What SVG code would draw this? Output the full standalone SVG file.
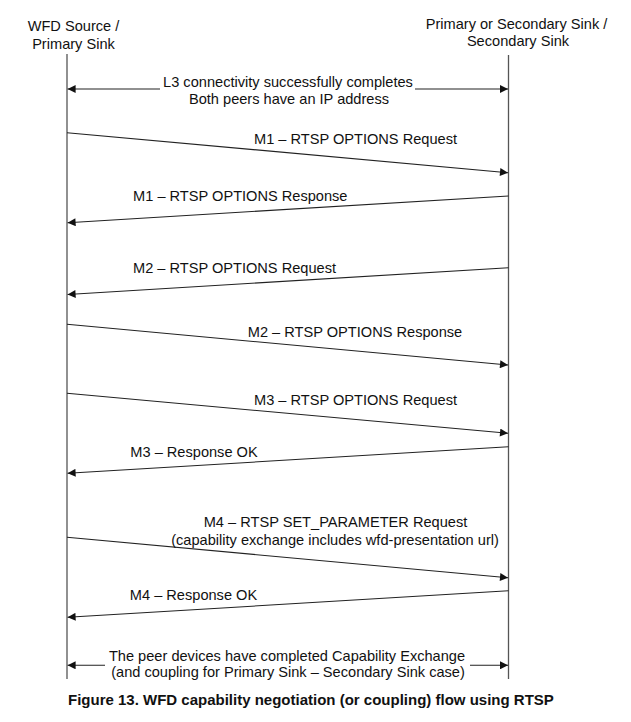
<svg xmlns="http://www.w3.org/2000/svg" width="631" height="722" viewBox="0 0 631 722">
<defs>
<marker id="ah" viewBox="0 0 10 10" refX="10" refY="5" markerWidth="9" markerHeight="8" markerUnits="userSpaceOnUse" orient="auto">
<path d="M0,0 L10,5 L0,10 z" fill="#111"/>
</marker>
<style>
text{font-family:"Liberation Sans",Arial,Helvetica,sans-serif;font-size:14.6px;fill:#111}
.m{text-anchor:middle}
.cap{font-weight:bold;font-size:15px}
.life{stroke:#555;stroke-width:1.3;fill:none}
.msg{stroke:#222;stroke-width:1.1;fill:none;marker-end:url(#ah)}
</style>
</defs>
<rect width="631" height="722" fill="#fff"/>
<g id="source">
<text class="m" x="73.5" y="31">WFD Source /</text>
<text class="m" x="73.5" y="49">Primary Sink</text>
<line class="life" x1="67" y1="54" x2="67" y2="679"/>
</g>
<g id="sink">
<text class="m" x="516.5" y="29">Primary or Secondary Sink /</text>
<text class="m" x="518" y="46">Secondary Sink</text>
<line class="life" x1="508.5" y1="55" x2="508.5" y2="679"/>
</g>
<g id="connectors">
<line class="msg" x1="160" y1="89" x2="67.6" y2="89"/>
<line class="msg" x1="415" y1="89" x2="508" y2="89"/>
<line class="msg" x1="67" y1="132.7" x2="508" y2="172.7"/>
<line class="msg" x1="508.5" y1="196" x2="67.6" y2="222.7"/>
<line class="msg" x1="508.5" y1="267.7" x2="67.6" y2="294.5"/>
<line class="msg" x1="67" y1="324.3" x2="508" y2="365"/>
<line class="msg" x1="67" y1="393.3" x2="508" y2="433.3"/>
<line class="msg" x1="508.5" y1="446.7" x2="67.6" y2="473.3"/>
<line class="msg" x1="67" y1="537.3" x2="508" y2="577.7"/>
<line class="msg" x1="508.5" y1="590.7" x2="67.6" y2="617.3"/>
<line class="msg" x1="105" y1="665.3" x2="67.6" y2="665.3"/>
<line class="msg" x1="470" y1="665.3" x2="508" y2="665.3"/>
</g>
<g id="labels">
<text class="m" x="288" y="87">L3 connectivity successfully completes</text>
<text class="m" x="289" y="104">Both peers have an IP address</text>
<text class="m" x="355.5" y="144">M1 – RTSP OPTIONS Request</text>
<text class="m" x="240.3" y="201">M1 – RTSP OPTIONS Response</text>
<text class="m" x="234.5" y="273">M2 – RTSP OPTIONS Request</text>
<text class="m" x="355" y="337">M2 – RTSP OPTIONS Response</text>
<text class="m" x="355.5" y="405">M3 – RTSP OPTIONS Request</text>
<text class="m" x="194" y="456.5">M3 – Response OK</text>
<text class="m" x="335.5" y="526.5">M4 – RTSP SET_PARAMETER Request</text>
<text class="m" x="335" y="545">(capability exchange includes wfd-presentation url)</text>
<text class="m" x="193.5" y="600">M4 – Response OK</text>
<text class="m" x="287" y="661">The peer devices have completed Capability Exchange</text>
<text class="m" x="288" y="676.5">(and coupling for Primary Sink – Secondary Sink case)</text>
</g>
<g id="caption">
<text class="cap" x="68" y="705">Figure 13. WFD capability negotiation (or coupling) flow using RTSP</text>
</g>
</svg>
